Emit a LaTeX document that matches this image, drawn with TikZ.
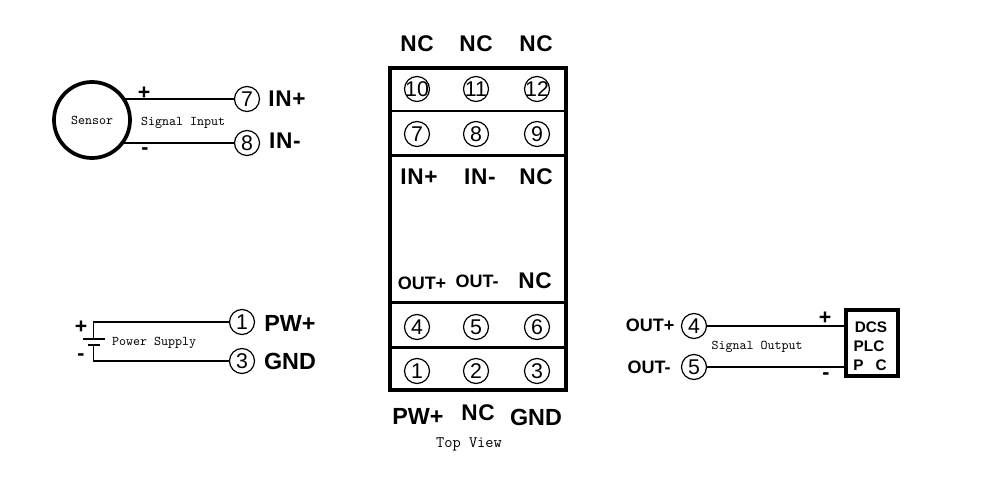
\documentclass[tikz,border=0pt]{standalone}
\usepackage{fontspec}
\setmainfont{Liberation Sans}
\begin{document}
\begin{tikzpicture}[x=.75pt,y=-.75pt,node distance=44.25pt,
                    term node/.style={circle,draw,line width=.9pt,minimum size=18.75pt,inner sep=0pt,font=\fontsize{16}{16}\selectfont},
                    big label/.style={inner sep=0pt,font=\fontsize{17}{17}\selectfont\bfseries\addfontfeature{LetterSpace=3}},
                    mid label/.style={inner sep=0pt,font=\fontsize{13.5}{13.5}\selectfont\bfseries},
                    pin label/.style={inner sep=0pt,font=\fontsize{17.5}{17.5}\selectfont\bfseries},
                    sign label/.style={inner sep=0pt,font=\fontsize{16}{16}\selectfont\bfseries},
                    small text/.style={inner sep=0pt,font=\fontsize{10}{10}\selectfont\ttfamily},
                    wire/.style={line width=1.2pt},
                    heavy/.style={line width=2.8pt}]
  \useasboundingbox (0,0) rectangle (1000,492);
  % module
  \node[draw,heavy,minimum width=132pt,minimum height=241pt,inner sep=0pt] (box) at (478,229) {};
  \coordinate (d1) at (478,111);
  \coordinate (d2) at (478,155.5);
  \coordinate (d3) at (478,302.5);
  \coordinate (d4) at (478,347.5);
  \draw[line width=1.9pt] (d1 -| box.west) -- (d1 -| box.east);
  \draw[line width=1.9pt] (d2 -| box.west) -- (d2 -| box.east);
  \draw[line width=1.9pt] (d3 -| box.west) -- (d3 -| box.east);
  \draw[line width=1.9pt] (d4 -| box.west) -- (d4 -| box.east);
  \node[term node] (10) at (417,89) {\makebox[0pt]{10}};
  \node[term node] (11) [right of=10] {\makebox[0pt]{11}};
  \node[term node] (12) [right of=11,node distance=45.75pt] {\makebox[0pt]{12}};
  \node[term node] (7) [below of=10,node distance=33.75pt] {7};
  \node[term node] (8) [right of=7] {8};
  \node[term node] (9) [right of=8,node distance=45.75pt] {9};
  \node[term node] (4) at (417,327) {4};
  \node[term node] (5) [right of=4] {5};
  \node[term node] (6) [right of=5,node distance=45.75pt] {6};
  \node[term node] (1) [below of=4,node distance=33pt] {1};
  \node[term node] (2) [right of=1] {2};
  \node[term node] (3) [right of=2,node distance=45.75pt] {3};
  \node[big label] (nc10) at (417,44) {NC};
  \node[big label] (nc11) at (476,44) {NC};
  \node[big label] (nc12) at (536,44) {NC};
  \node[big label] (in1) at (419,177) {IN+};
  \node[big label] (in2) at (480,177) {IN-};
  \node[big label] (nc9) at (536,177) {NC};
  \node[mid label] (out1) at (422,283) {OUT+};
  \node[mid label] (out2) at (477,281) {OUT-};
  \node[big label] (nc6) at (535,281) {NC};
  \node[pin label] (pw) at (418,416) {PW+};
  \node[big label] (nc2) at (478,413) {NC};
  \node[pin label] (gnd) at (536,417) {GND};
  \node[small text,font=\fontsize{12}{12}\selectfont\ttfamily] (top) at (469,444) {Top View};
  % sensor side
  \node[circle,draw,heavy,minimum size=57pt,inner sep=0pt,font=\fontsize{10}{10}\selectfont\ttfamily] (sensor) at (92,120) {Sensor};
  \node[term node] (s7) at (247,99) {7};
  \node[term node] (s8) at (247,143) {8};
  \node[big label] (sin1) at (287,99) {IN+};
  \node[big label] (sin2) at (285,141) {IN-};
  \node[sign label] (splus) at (144,93) {+};
  \node[sign label] (sminus) at (145,151) {-};
  \node[small text] (sig1) at (183,123) {Signal Input};
  \path[wire]
    (s7) edge (s7 -| sensor.33)
    (s8) edge (s8 -| sensor.-37);
  % power side
  \node[term node] (p1) at (242,322) {1};
  \node[term node] (p3) at (242,361) {3};
  \node[pin label] (ppw) at (290,323) {PW+};
  \node[pin label] (pgnd) at (290,361) {GND};
  \node[sign label] (pplus) at (81,327) {+};
  \node[sign label] (pminus) at (81,357) {-};
  \node[small text] (sig2) at (154,342.5) {Power Supply};
  \coordinate (bat1) at (93.5,339);
  \coordinate (bat2) at (93.5,345);
  \draw[wire] (p1) -| (bat1);
  \draw[wire] (p3) -| (bat2);
  \draw[wire] (83,339) -- (105,339);
  \draw[line width=2.2pt] (88,345) -- (100,345);
  % output side
  \node[draw,heavy,minimum width=38.5pt,minimum height=50pt,inner sep=0pt] (dcs) at (872,343) {};
  \node[term node] (o4) at (694,326) {4};
  \node[term node] (o5) at (694,367) {5};
  \node[mid label] (oout1) at (650,325) {OUT+};
  \node[mid label] (oout2) at (649,367) {OUT-};
  \node[sign label] (oplus) at (825,318) {+};
  \node[sign label] (ominus) at (826,376) {-};
  \node[small text] (sig3) at (757,347) {Signal Output};
  \node[inner sep=0pt,font=\fontsize{11.5}{11.5}\selectfont\bfseries] (dcs1) at (871,327) {DCS};
  \node[inner sep=0pt,font=\fontsize{11.5}{11.5}\selectfont\bfseries] (dcs2) at (869,346) {PLC};
  \node[inner sep=0pt,font=\fontsize{11.5}{11.5}\selectfont\bfseries] (dcs3) at (870,365) {P\hspace{9pt}C};
  \path[wire]
    (o4) edge (o4 -| dcs.west)
    (o5) edge (o5 -| dcs.west);
\end{tikzpicture}
\end{document}
